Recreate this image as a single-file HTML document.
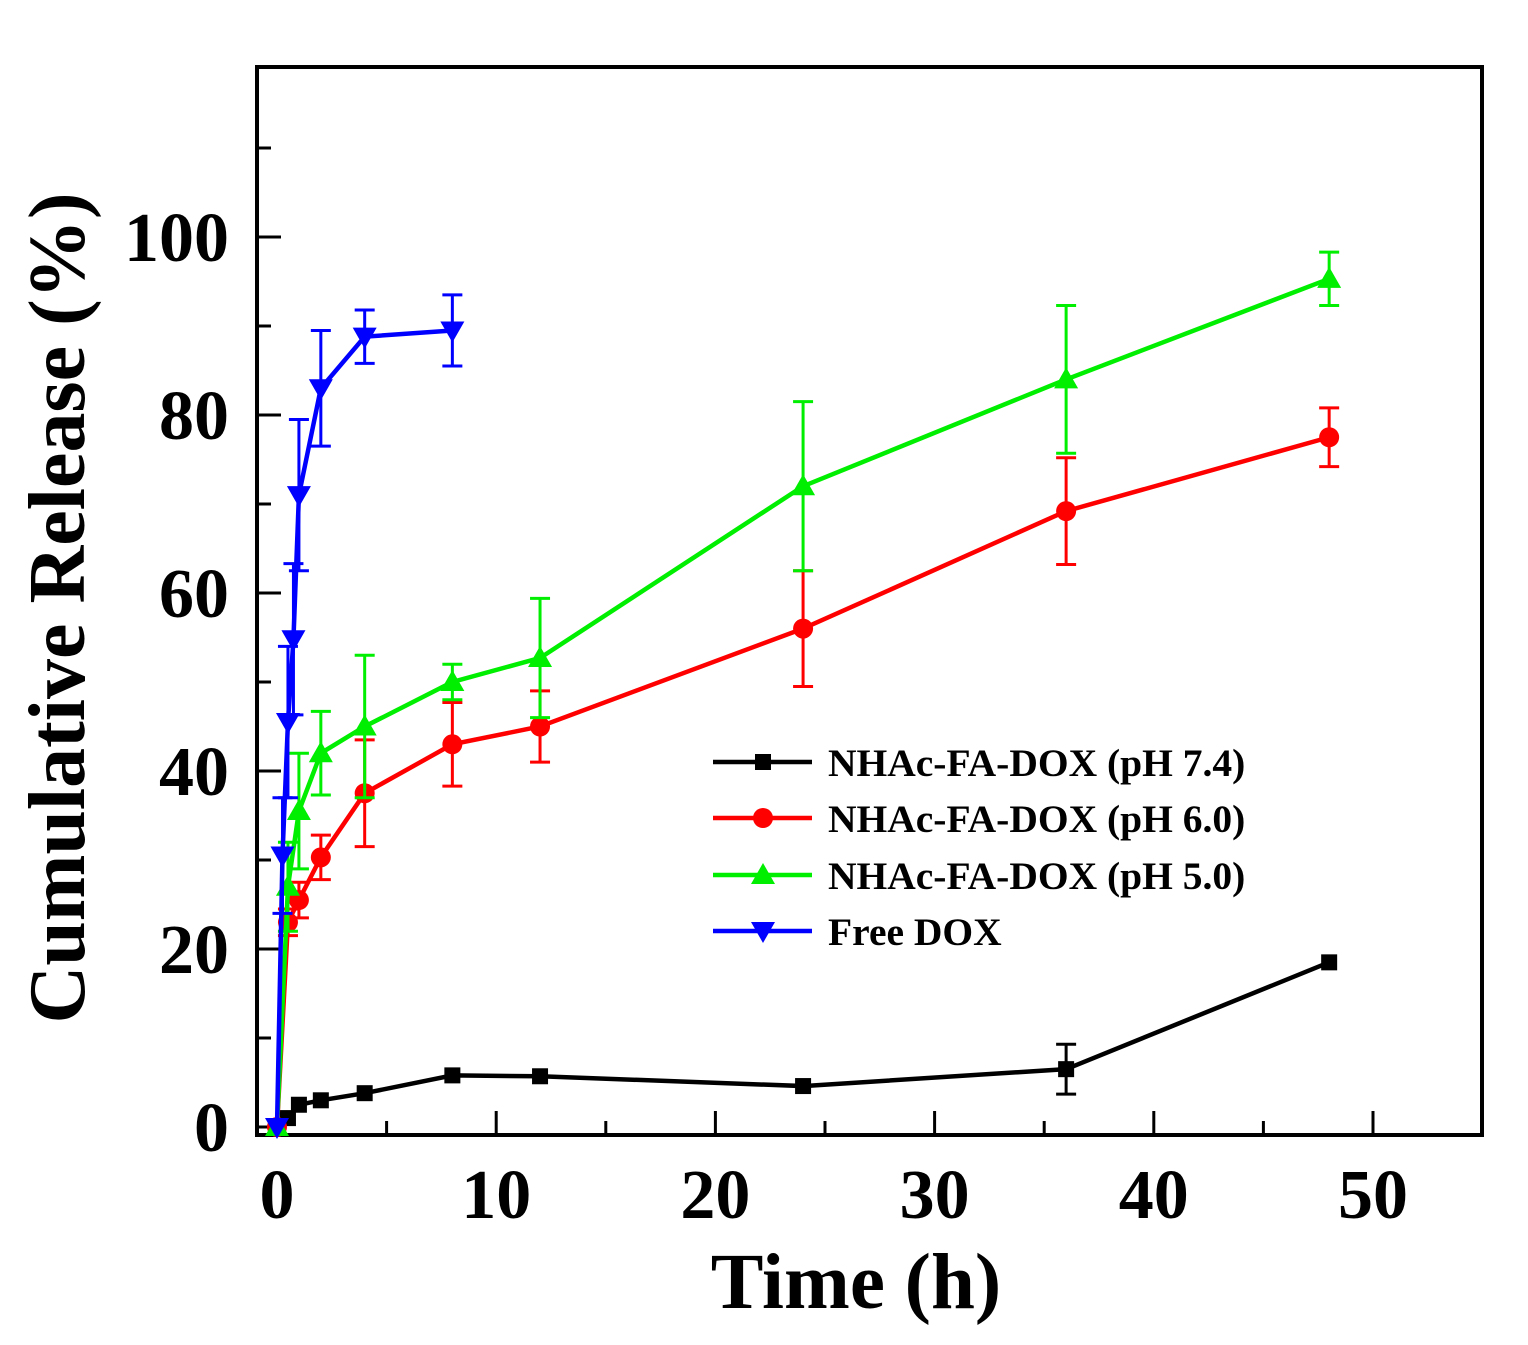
<!DOCTYPE html>
<html><head><meta charset="utf-8"><style>
html,body{margin:0;padding:0;background:#fff;}
svg{display:block;}
text{font-family:"Liberation Serif",serif;font-weight:bold;}
</style></head><body>
<svg id="s" width="1528" height="1345" viewBox="0 0 1528 1345" xmlns="http://www.w3.org/2000/svg">
<rect x="257" y="67" width="1225" height="1068" fill="none" stroke="#000" stroke-width="4"/>
<g id="ticks" stroke="#000" stroke-width="3"></g>
<g font-size="70" text-anchor="end" id="ylab"></g>
<g font-size="70" text-anchor="middle" id="xlab"></g>
<text x="856" y="1308" font-size="79" text-anchor="middle">Time (h)</text>
<text transform="translate(84,608) rotate(-90)" font-size="80" text-anchor="middle">Cumulative Release (%)</text>
<g id="data"></g>
<g id="leg" font-size="39.5"></g>
</svg>
<script>
const NS="http://www.w3.org/2000/svg";
function el(p,t,a,txt){const e=document.createElementNS(NS,t);for(const k in a)e.setAttribute(k,a[k]);if(txt!==undefined)e.textContent=txt;document.getElementById(p).appendChild(e);return e;}
const X=v=>277+21.92*v, Y=v=>1127-8.9*v;
for(let v=0;v<=110;v+=10){const major=v%20==0;el('ticks','line',{x1:259,x2:259+(major?22:12),y1:Y(v),y2:Y(v)});
 if(major)el('ylab','text',{x:229,y:Y(v)+24},v);}
for(let v=0;v<=55;v+=5){if(v==0||v==55)continue;const major=v%10==0;el('ticks','line',{x1:X(v),x2:X(v),y1:1133,y2:1133-(major?22:12)});}
for(let v=0;v<=50;v+=10)el('xlab','text',{x:X(v),y:1218},v);
const series=[
{c:'#000',m:'sq',d:[[0,0,0],[0.5,1,0],[1,2.5,0],[2,3,0],[4,3.8,0],[8,5.8,0],[12,5.7,0],[24,4.6,0],[36,6.5,2.8],[48,18.5,0]]},
{c:'#ff0000',m:'ci',d:[[0,0,0],[0.5,23,1.5],[1,25.5,2],[2,30.3,2.5],[4,37.5,6],[8,43,4.7],[12,45,4],[24,56,6.5],[36,69.2,6],[48,77.5,3.3]]},
{c:'#00ee00',m:'up',d:[[0,0,0],[0.5,27,5],[1,35.5,6.5],[2,42,4.7],[4,45,8],[8,50,2],[12,52.7,6.7],[24,72,9.5],[36,84,8.3],[48,95.3,3]]},
{c:'#0000ff',m:'dn',d:[[0,0,0],[0.25,30.5,6.5],[0.5,45.5,8.5],[0.75,54.8,8.5],[1,71,8.5],[2,83,6.5],[4,88.8,3],[8,89.5,4]]}];
function marker(p,m,x,y,c){
 if(m=='sq')el(p,'rect',{x:x-8,y:y-8,width:16,height:16,fill:c});
 else if(m=='ci')el(p,'circle',{cx:x,cy:y,r:10,fill:c});
 else if(m=='up')el(p,'polygon',{points:`${x},${y-12} ${x-12},${y+9} ${x+12},${y+9}`,fill:c});
 else el(p,'polygon',{points:`${x},${y+12} ${x-12},${y-9} ${x+12},${y-9}`,fill:c});
}
series.forEach(s=>{
 s.d.forEach(([x,y,e])=>{if(e>0){const px=X(x);el('data','path',{d:`M${px},${Y(y+e)}V${Y(y-e)}M${px-10},${Y(y+e)}H${px+10}M${px-10},${Y(y-e)}H${px+10}`,stroke:s.c,'stroke-width':3,fill:'none'});}});
 el('data','polyline',{points:s.d.map(([x,y])=>X(x)+','+Y(y)).join(' '),stroke:s.c,'stroke-width':4.5,fill:'none'});
 s.d.forEach(([x,y])=>marker('data',s.m,X(x),Y(y),s.c));
});
const labs=['NHAc-FA-DOX (pH 7.4)','NHAc-FA-DOX (pH 6.0)','NHAc-FA-DOX (pH 5.0)','Free DOX'];
[762,818,875,931].forEach((y,i)=>{const s=series[i];el('leg','line',{x1:713,x2:812,y1:y,y2:y,stroke:s.c,'stroke-width':4.5});marker('leg',s.m,763,y,s.c);el('leg','text',{x:828,y:y+14},labs[i]);});
</script>
</body></html>
